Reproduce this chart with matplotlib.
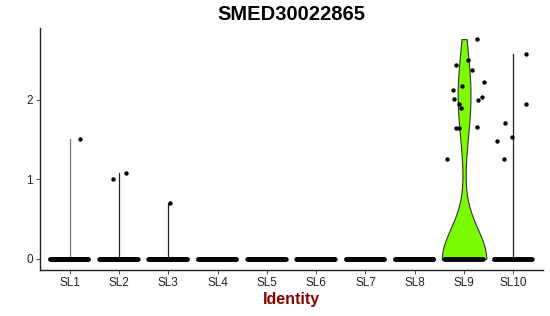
import numpy as np
import matplotlib
matplotlib.use("Agg")
import matplotlib.pyplot as plt

plt.rcParams["font.family"] = ["Liberation Sans", "DejaVu Sans"]

# ===== data =====
clusters = ["SL1", "SL2", "SL3", "SL4", "SL5", "SL6", "SL7", "SL8", "SL9", "SL10"]
n_zero   = [90, 90, 90, 90, 90, 90, 90, 90, 40, 50]
nonzero  = {
    "SL1":  [1.51],
    "SL2":  [1.01, 1.08],
    "SL3":  [0.70],
    "SL9":  [2.76, 2.50, 2.44, 2.37, 2.22, 2.17, 2.12, 2.03, 2.01, 2.00,
             1.94, 1.90, 1.66, 1.65, 1.65, 1.25],
    "SL10": [2.57, 1.94, 1.71, 1.53, 1.48, 1.25],
}
# horizontal jitter of the non-zero points (x offset, category units)
jitter = {
    "SL1":  [0.21],
    "SL2":  [-0.12, 0.14],
    "SL3":  [0.04],
    "SL9":  [0.26, 0.08, -0.17, 0.17, 0.40, -0.04, -0.23, 0.36, -0.21, 0.28,
             -0.10, -0.07, 0.26, -0.17, -0.10, -0.35],
    "SL10": [0.26, 0.26, -0.16, -0.02, -0.33, -0.20],
}
TITLE = "SMED30022865"
VIOLIN_COLOR = "#7CFC00"


def kde(values, grid):
    # gaussian kde with R's bw.nrd0 bandwidth
    v = np.asarray(values, float)
    n = len(v)
    sd = v.std(ddof=1)
    q75, q25 = np.percentile(v, [75, 25])
    lo = min(sd, (q75 - q25) / 1.34)
    if lo == 0:
        lo = sd
    bw = 0.9 * lo * n ** -0.2
    d = np.exp(-0.5 * ((grid[:, None] - v[None, :]) / bw) ** 2).sum(axis=1)
    return d / (n * bw * np.sqrt(2 * np.pi))


fig = plt.figure(figsize=(5.5, 3.16), dpi=100)
ax = fig.add_axes([0.0727, 0.1456, 0.9145, 0.7654])

for i, name in enumerate(clusters):
    x0 = i + 1
    vals = nonzero.get(name, [])
    allv = [0.0] * n_zero[i] + vals
    top = max(allv)

    # violin (mostly degenerate -> vertical line)
    if name == "SL9":
        grid = np.linspace(0, top, 300)
        dens = kde(allv, grid)
        w = dens / dens.max() * 0.45
        ax.fill_betweenx(grid, x0 - w, x0 + w, facecolor=VIOLIN_COLOR,
                         edgecolor="#333333", linewidth=0.8, zorder=1)
    elif top > 0:
        ax.plot([x0, x0], [0, top], color="#777777" if name == "SL1" else "#222222",
                linewidth=0.9, zorder=1)

    # zero points (jittered band)
    xs = x0 + np.linspace(-0.4, 0.38, n_zero[i])
    ax.scatter(xs, np.zeros_like(xs), s=10, color="black", linewidths=0, zorder=3)
    # non-zero points
    if vals:
        ax.scatter(x0 + np.array(jitter[name]), vals, s=10, color="black",
                   linewidths=0, zorder=3)

ax.set_xlim(0.4, 10.6)
ax.set_ylim(-0.138, 2.898)
ax.set_xticks(range(1, len(clusters) + 1))
ax.set_xticklabels(clusters)
ax.set_yticks([0, 1, 2])
ax.tick_params(axis="both", labelsize=8.5, length=3, width=0.6, color="#333333",
               labelcolor="#222222", pad=2)
for s in ["top", "right"]:
    ax.spines[s].set_visible(False)
for s in ["left", "bottom"]:
    ax.spines[s].set_linewidth(1.0)
    ax.spines[s].set_color("#222222")

ax.set_xlabel("Identity", fontsize=11.5, fontweight="bold", color="#8B0000", labelpad=2)
ax.set_title(TITLE, fontsize=14.5, fontweight="bold", pad=6)

fig.savefig("out.png", dpi=100)
